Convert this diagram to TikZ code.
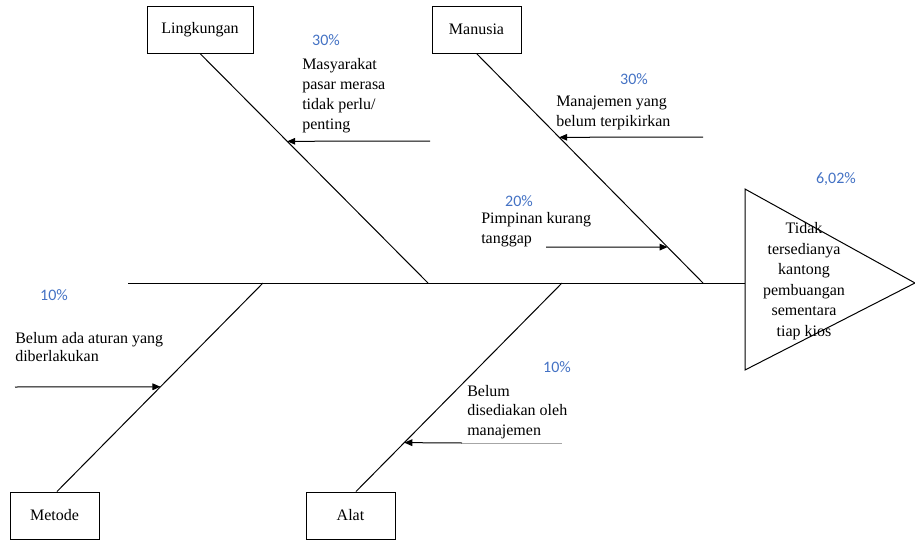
\documentclass[tikz,border=0pt]{standalone}
\usepackage{fontspec}
\setmainfont{Liberation Serif}
\newfontfamily\pctfont{Carlito}
\usetikzlibrary{arrows.meta,calc}
\definecolor{pctblue}{HTML}{4472C4}
\begin{document}
\begin{tikzpicture}[x=0.75pt,y=-0.75pt,
  bone/.style={line width=0.75pt},
  catbox/.style={draw,line width=0.75pt,minimum height=35.25pt,inner sep=0pt,font=\fontsize{12}{14}\selectfont},
  cause/.style={align=left,inner sep=0pt,anchor=west,font=\fontsize{12}{15}\selectfont},
  pct/.style={inner sep=0pt,text=pctblue,font=\pctfont\fontsize{12}{14}\selectfont},
  arr/.style={line width=0.75pt,-{Triangle[length=6pt,width=5pt]}}]
\useasboundingbox (0,0) rectangle (915,543);

% category boxes
\node[catbox,minimum width=79.5pt] (ling) at (200,29.5) {Lingkungan};
\node[catbox,minimum width=66.75pt] (manu) at (476.5,29.5) {Manusia};
\node[catbox,minimum width=66.75pt] (meto) at (54.5,515.5) {Metode};
\node[catbox,minimum width=66.75pt] (alat) at (350.5,515.5) {Alat};

% head (triangle)
\coordinate (hl) at (745,283);
\draw[bone] (745,189) -- (915,283) -- (745,370) -- cycle;
\node[align=center,inner sep=0pt,font=\fontsize{12}{15.4}\selectfont] (head) at (804,281)
  {Tidak\\tersedianya\\kantong\\pembuangan\\sementara\\tiap kios};

% spine
\coordinate (tail) at (128,283);
\draw[bone] (tail) -- (hl);

% junctions on the spine
\coordinate (jL) at (428,283);
\coordinate (jM) at (703,283);
\coordinate (jMe) at (263,283);
\coordinate (jA) at (562,283);

% bones
\draw[bone] (ling.south) -- (jL);
\draw[bone] (manu.south) -- (jM);
\coordinate (meTop) at ($(meto.north)+(2.5,0)$);
\coordinate (alTop) at ($(alat.north)+(5.5,0)$);
\draw[bone] (meTop) -- (jMe);
\draw[bone] (alTop) -- (jA);

% sub-cause arrows
\coordinate (a1s) at (430,141);
\coordinate (a1e) at ($(ling.south)!0.3826!(jL)$);
\draw[arr] (a1s) -- (a1e);

\coordinate (a2s) at (703,137);
\coordinate (a2e) at ($(manu.south)!0.3652!(jM)$);
\draw[arr] (a2s) -- (a2e);

\coordinate (a3s) at (546,247);
\coordinate (a3e) at ($(manu.south)!0.8435!(jM)$);
\draw[arr] (a3s) -- (a3e);

\coordinate (a4s) at (15,387);
\coordinate (a4e) at ($(meTop)!0.5024!(jMe)$);
\draw[arr] (a4s) -- (a4e);

\coordinate (a5s) at (462,443);
\coordinate (a5g) at (562,443);
\coordinate (a5e) at ($(alTop)!0.2344!(jA)$);
\draw[arr] (a5s) -- (a5e);
\draw[line width=0.75pt,gray!70] (a5s) -- (a5g);

% texts
\node[pct] (p1) at (326,40) {30\%};
\node[cause] (t1) at (302,96) {Masyarakat\\pasar merasa\\tidak perlu/\\penting};

\node[pct] (p2) at (634,79) {30\%};
\node[cause] (t2) at (556,113) {Manajemen yang\\belum terpikirkan};

\node[pct] (p3) at (519,201) {20\%};
\node[cause] (t3) at (481,230) {Pimpinan kurang\\tanggap};

\node[pct] (p4) at (836,179) {6,02\%};

\node[pct] (p5) at (54,295) {10\%};
\node[cause,font=\fontsize{12}{13.5}\selectfont] (t5) at (15,347) {Belum ada aturan yang\\diberlakukan};

\node[pct] (p6) at (557,367) {10\%};
\node[cause,font=\fontsize{12}{14.6}\selectfont] (t6) at (467,412) {Belum\\disediakan oleh\\manajemen};
\end{tikzpicture}
\end{document}
